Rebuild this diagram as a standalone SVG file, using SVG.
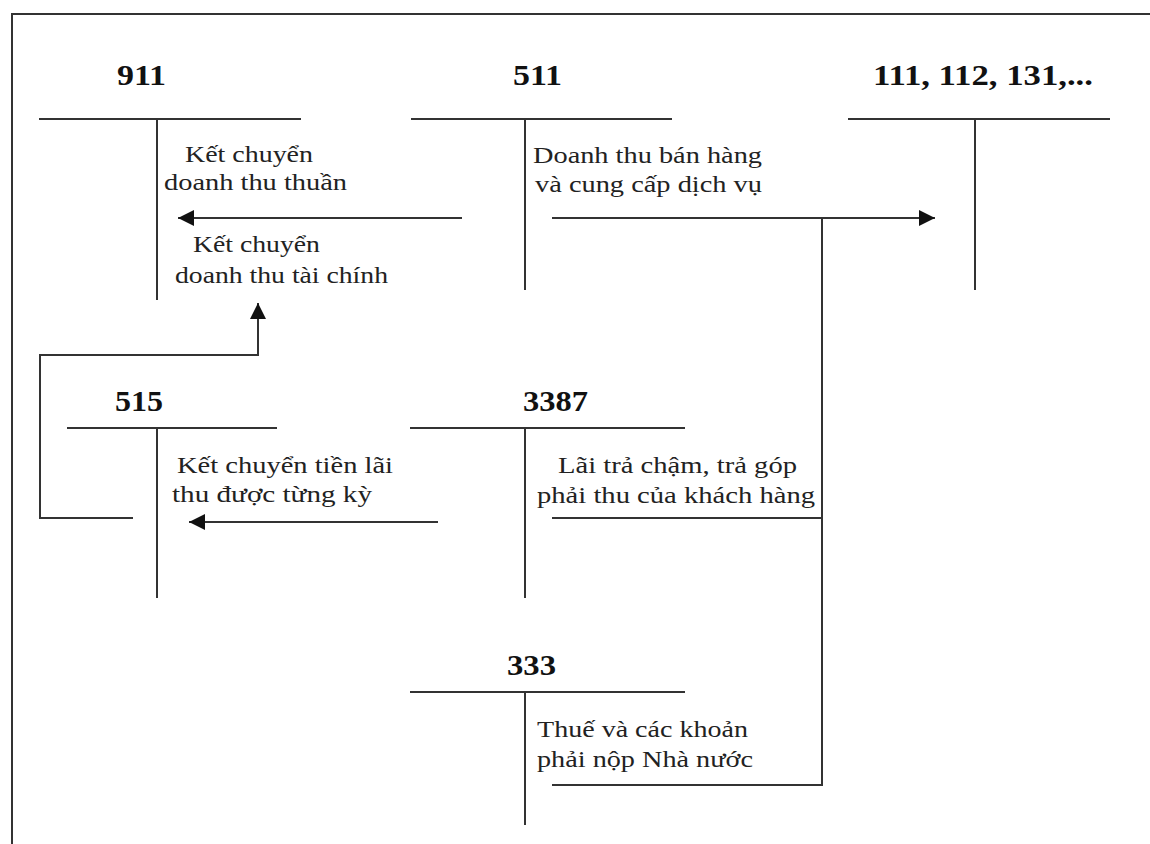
<svg xmlns="http://www.w3.org/2000/svg" width="1150" height="844" viewBox="0 0 1150 844">
<style>
.ln{stroke:#333;stroke-width:2;fill:none}
.acc{font-family:"Liberation Serif","Times New Roman",serif;font-weight:bold;font-size:30px;fill:#111}
.lbl{font-family:"Liberation Serif","Times New Roman",serif;font-size:23px;fill:#222}
</style>
<defs>
<marker id="ah" viewBox="0 0 10 10" refX="10" refY="5" markerWidth="16" markerHeight="16" markerUnits="userSpaceOnUse" orient="auto">
<path d="M0,0 L10,5 L0,10 z" fill="#111"/>
</marker>
</defs>
<rect width="1150" height="844" fill="#fff"/>
<path class="ln" d="M12,850 V14 H1160"/>

<g id="acc911">
<text class="acc" x="117" y="85" textLength="49" lengthAdjust="spacingAndGlyphs">911</text>
<path class="ln" d="M39,119 H301 M157,119 V300"/>
</g>
<g id="acc511">
<text class="acc" x="513" y="85" textLength="49" lengthAdjust="spacingAndGlyphs">511</text>
<path class="ln" d="M411,119 H672 M525,119 V290"/>
</g>
<g id="acc111">
<text class="acc" x="873" y="85" textLength="220" lengthAdjust="spacingAndGlyphs">111, 112, 131,...</text>
<path class="ln" d="M848,119 H1110 M975,119 V290"/>
</g>
<g id="acc515">
<text class="acc" x="115" y="411" textLength="48" lengthAdjust="spacingAndGlyphs">515</text>
<path class="ln" d="M67,428 H277 M157,428 V598"/>
</g>
<g id="acc3387">
<text class="acc" x="523" y="411" textLength="65" lengthAdjust="spacingAndGlyphs">3387</text>
<path class="ln" d="M410,428 H685 M525,428 V598"/>
</g>
<g id="acc333">
<text class="acc" x="507" y="675" textLength="49" lengthAdjust="spacingAndGlyphs">333</text>
<path class="ln" d="M410,692 H685 M525,692 V825"/>
</g>

<g id="connectors">
<path class="ln" d="M462,218 H178" marker-end="url(#ah)"/>
<path class="ln" d="M133,518 H40 V355 H258 V303" marker-end="url(#ah)"/>
<path class="ln" d="M438,522 H189" marker-end="url(#ah)"/>
<path class="ln" d="M552,218 H935" marker-end="url(#ah)"/>
<path class="ln" d="M822,218 V785 H552"/>
<path class="ln" d="M552,518 H822"/>
</g>

<g id="labels">
<text class="lbl" x="185" y="162" textLength="128" lengthAdjust="spacingAndGlyphs">Kết chuyển</text>
<text class="lbl" x="164" y="190" textLength="183" lengthAdjust="spacingAndGlyphs">doanh thu thuần</text>
<text class="lbl" x="193" y="252" textLength="127" lengthAdjust="spacingAndGlyphs">Kết chuyển</text>
<text class="lbl" x="175" y="283" textLength="213" lengthAdjust="spacingAndGlyphs">doanh thu tài chính</text>
<text class="lbl" x="533" y="163" textLength="229" lengthAdjust="spacingAndGlyphs">Doanh thu bán hàng</text>
<text class="lbl" x="535" y="192" textLength="227" lengthAdjust="spacingAndGlyphs">và cung cấp dịch vụ</text>
<text class="lbl" x="177" y="473" textLength="216" lengthAdjust="spacingAndGlyphs">Kết chuyển tiền lãi</text>
<text class="lbl" x="172" y="502" textLength="200" lengthAdjust="spacingAndGlyphs">thu được từng kỳ</text>
<text class="lbl" x="558" y="473" textLength="239" lengthAdjust="spacingAndGlyphs">Lãi trả chậm, trả góp</text>
<text class="lbl" x="537" y="503" textLength="278" lengthAdjust="spacingAndGlyphs">phải thu của khách hàng</text>
<text class="lbl" x="537" y="737" textLength="211" lengthAdjust="spacingAndGlyphs">Thuế và các khoản</text>
<text class="lbl" x="537" y="767" textLength="216" lengthAdjust="spacingAndGlyphs">phải nộp Nhà nước</text>
</g>
</svg>
